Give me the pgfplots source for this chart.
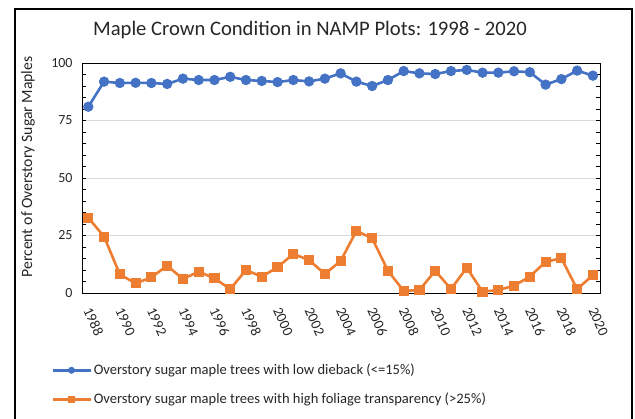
\documentclass[border=0pt]{standalone}
\usepackage{pgfplots}
\pgfplotsset{compat=1.18}
\usepackage{fontspec}
\setmainfont{Carlito}
\definecolor{cblue}{HTML}{4472C4}
\definecolor{corange}{HTML}{ED7D31}
\definecolor{gridgray}{HTML}{D9D9D9}
\definecolor{txt}{HTML}{262626}
\begin{document}
\begin{tikzpicture}[x=1bp,y=1bp]
\useasboundingbox (0,0) rectangle (635,-418);
\draw[line width=2bp] (15,-440) -- (15,-9) -- (632,-9) -- (632,-440);
\node[font=\fontsize{20.7}{24}\selectfont, text=txt] at (310,-30) {Maple Crown Condition in NAMP Plots: 1998 - 2020};
\node[rotate=90, font=\fontsize{15.8}{18}\selectfont, text=txt] at (28,-167) {Percent of Overstory Sugar Maples};
\begin{axis}[
  at={(82bp,-293bp)}, anchor=south west,
  scale only axis, width=518bp, height=230bp,
  xmin=1987.6, xmax=2020.45, ymin=0, ymax=100,
  xtick={1988,1990,...,2020},
  /pgf/number format/set thousands separator={},
  /pgf/number format/assume math mode=true,
  x tick label style={xshift=4bp, yshift=-13bp, rotate=-66, anchor=north west, inner sep=0pt, font=\fontsize{14.5}{16}\selectfont, text=txt},
  y tick label style={font=\fontsize{14}{16}\selectfont, text=txt, xshift=-6bp},
  ytick={0,25,50,75,100},
  minor ytick={5,10,15,20,30,35,40,45,55,60,65,70,80,85,90,95},
  ymajorgrids, major grid style={gridgray, line width=1bp},
  tick align=inside, major tick length=4bp, minor tick length=4bp,
  xtick style={draw=none},
  ytick style={black, line width=0.6bp},
  axis line style={black, line width=1bp},
  legend style={at={(0,0)}, anchor=north west, xshift=-31bp, yshift=-69bp,
    draw=none, fill=none, font=\fontsize{14.6}{17}\selectfont, text=txt,
    row sep=13bp, inner sep=0pt, cells={anchor=west}},
  legend image code/.code={\draw[mark repeat=2,mark phase=2,#1, every mark/.append style={scale=0.55}] plot coordinates {(0bp,0bp) (19bp,0bp) (38bp,0bp)};},
]
\addplot[cblue, line width=2.6bp, mark=*, mark size=3.8bp, mark options={fill=cblue, draw=cblue}] coordinates {
(1988,81.0) (1989,91.9) (1990,91.3) (1991,91.4) (1992,91.3) (1993,90.9) (1994,93.2) (1995,92.6) (1996,92.6) (1997,94.0) (1998,92.6) (1999,92.2) (2000,91.7) (2001,92.6) (2002,92.0) (2003,93.2) (2004,95.5) (2005,91.9) (2006,90.0) (2007,92.6) (2008,96.5) (2009,95.5) (2010,95.2) (2011,96.5) (2012,97.0) (2013,95.8) (2014,95.8) (2015,96.4) (2016,96.0) (2017,90.6) (2018,93.0) (2019,96.7) (2020,94.5)
};
\addlegendentry{Overstory sugar maple trees with low dieback (<=15\%)}
\addplot[corange, line width=2.6bp, mark=square*, mark size=3.8bp, mark options={fill=corange, draw=corange}] coordinates {
(1988,32.7) (1989,24.5) (1990,8.1) (1991,4.2) (1992,6.8) (1993,11.9) (1994,6.1) (1995,9.3) (1996,6.4) (1997,1.7) (1998,10.0) (1999,7.1) (2000,11.2) (2001,17.0) (2002,14.3) (2003,8.3) (2004,13.9) (2005,27.0) (2006,23.8) (2007,9.7) (2008,0.9) (2009,1.3) (2010,9.7) (2011,1.7) (2012,11.0) (2013,0.6) (2014,1.3) (2015,3.2) (2016,7.1) (2017,13.6) (2018,15.1) (2019,1.7) (2020,7.8)
};
\addlegendentry{Overstory sugar maple trees with high foliage transparency (>25\%)}
\end{axis}
\end{tikzpicture}
\end{document}
